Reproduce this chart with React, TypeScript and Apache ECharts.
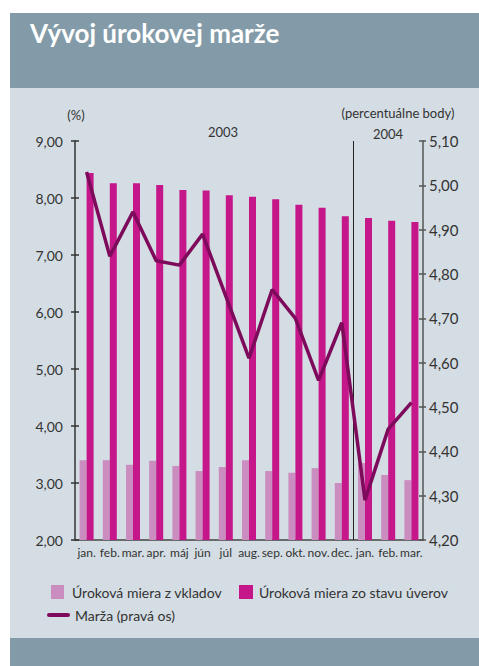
import React, { useEffect, useRef } from "react";
import * as echarts from "echarts";

const categories = ["jan.", "feb.", "mar.", "apr.", "máj", "jún", "júl", "aug.", "sep.", "okt.", "nov.", "dec.", "jan.", "feb.", "mar."];
const depositRate = [3.40, 3.40, 3.32, 3.39, 3.30, 3.21, 3.28, 3.40, 3.21, 3.18, 3.26, 3.00, 3.35, 3.14, 3.05];
const loanRate = [8.44, 8.26, 8.26, 8.23, 8.14, 8.13, 8.05, 8.02, 7.98, 7.88, 7.83, 7.68, 7.65, 7.60, 7.58];
const margin = [5.03, 4.84, 4.94, 4.83, 4.82, 4.89, 4.75, 4.61, 4.765, 4.70, 4.56, 4.69, 4.29, 4.45, 4.51];
const leftTicks = { min: 2, max: 9, interval: 1 };
const rightTicks = { min: 4.2, max: 5.1, interval: 0.1 };
const seriesNames = ["Úroková miera z vkladov", "Úroková miera zo stavu úverov", "Marža (pravá os)"];
const yearLabels = ["2003", "2004"];
const yearBreakIndex = 12;

const FONT = "Lato, 'Open Sans', sans-serif";
const TEXT = "#333333";

export default function App() {
  const ref = useRef<HTMLDivElement>(null);
  useEffect(() => {
    const chart = echarts.init(ref.current!, undefined, { renderer: "svg" });
    const fmt = (v: number) => v.toFixed(2).replace(".", ",");
    const baseGraphic: any[] = [
      { type: "rect", z: -10, shape: { x: 10, y: 13, width: 469, height: 75 }, style: { fill: "#839BA8" }, silent: true },
      { type: "rect", z: -10, shape: { x: 10, y: 88, width: 469, height: 550 }, style: { fill: "#D4DDE3" }, silent: true },
      { type: "rect", z: -10, shape: { x: 10, y: 638, width: 469, height: 28 }, style: { fill: "#839BA8" }, silent: true },
      { type: "text", x: 30, y: 20, style: { text: "Vývoj úrokovej marže", fill: "#ffffff", font: `bold 26px ${FONT}` } },
      { type: "text", x: 76, y: 115, style: { text: "(%)", fill: TEXT, font: `13px ${FONT}`, align: "center", verticalAlign: "middle" } },
      { type: "text", x: 398, y: 113, style: { text: "(percentuálne body)", fill: TEXT, font: `13px ${FONT}`, align: "center", verticalAlign: "middle" } },
      { type: "text", x: 223, y: 132, style: { text: yearLabels[0], fill: TEXT, font: `13px ${FONT}`, align: "center", verticalAlign: "middle" } },
      { type: "text", x: 388, y: 134, style: { text: yearLabels[1], fill: TEXT, font: `13px ${FONT}`, align: "center", verticalAlign: "middle" } },
      { type: "rect", shape: { x: 51, y: 585, width: 13, height: 14 }, style: { fill: "#CB8DBF" } },
      { type: "text", x: 72, y: 592, style: { text: seriesNames[0], fill: TEXT, font: `14px ${FONT}`, verticalAlign: "middle" } },
      { type: "rect", shape: { x: 239, y: 585, width: 14, height: 14 }, style: { fill: "#C5168A" } },
      { type: "text", x: 259, y: 592, style: { text: seriesNames[1], fill: TEXT, font: `14px ${FONT}`, verticalAlign: "middle" } },
      { type: "line", shape: { x1: 49, y1: 615, x2: 68, y2: 615 }, style: { stroke: "#7D0A5A", lineWidth: 4, lineCap: "round" } },
      { type: "text", x: 75, y: 615, style: { text: seriesNames[2], fill: TEXT, font: `14px ${FONT}`, verticalAlign: "middle" } },
    ];
    chart.setOption({
      animation: false,
      textStyle: { fontFamily: FONT },
      grid: { left: 75, right: 56, top: 141, bottom: 126, containLabel: false },
      graphic: baseGraphic,
      xAxis: {
        type: "category",
        data: categories,
        boundaryGap: true,
        axisLine: { show: true, lineStyle: { color: "#444", width: 1.5 } },
        axisTick: { show: false },
        axisLabel: { color: TEXT, fontSize: 12, margin: 6, interval: 0, fontFamily: FONT },
        splitLine: { show: false },
      },
      yAxis: [
        {
          type: "value", position: "left", ...leftTicks,
          axisLine: { show: true, lineStyle: { color: "#333", width: 1.5 } },
          axisTick: { show: true, length: 4, lineStyle: { color: "#333", width: 1.5 } },
          axisLabel: { color: TEXT, fontSize: 14, margin: 12, formatter: fmt, fontFamily: FONT },
          splitLine: { show: false },
        },
        {
          type: "value", position: "right", ...rightTicks,
          axisLine: { show: true, lineStyle: { color: "#555", width: 1.5 } },
          axisTick: { show: true, length: 3, lineStyle: { color: "#555", width: 1.5 } },
          axisLabel: { color: TEXT, fontSize: 15, margin: 6, formatter: fmt, fontFamily: FONT },
          splitLine: { show: false },
        },
        {
          type: "value", position: "left", ...leftTicks,
          axisLine: { show: false },
          axisTick: { show: true, inside: true, length: 4, lineStyle: { color: "#333", width: 1.5 } },
          axisLabel: { show: false },
          splitLine: { show: false },
        },
        {
          type: "value", position: "right", ...rightTicks,
          axisLine: { show: false },
          axisTick: { show: true, inside: true, length: 4, lineStyle: { color: "#555", width: 1.5 } },
          axisLabel: { show: false },
          splitLine: { show: false },
        },
      ],
      series: [
        { name: seriesNames[0], type: "bar", data: depositRate, barWidth: 7, barGap: "0%", itemStyle: { color: "#CB8DBF" }, yAxisIndex: 0 },
        { name: seriesNames[1], type: "bar", data: loanRate, barWidth: 7, barGap: "0%", itemStyle: { color: "#C5168A" }, yAxisIndex: 0 },
        { name: seriesNames[2], type: "line", data: margin, yAxisIndex: 1, showSymbol: false, symbol: "none", lineStyle: { color: "#7D0A5A", width: 3.5 }, z: 5 },
      ],
    });
    const xa = chart.convertToPixel({ xAxisIndex: 0 }, yearBreakIndex - 1) as number;
    const xb = chart.convertToPixel({ xAxisIndex: 0 }, yearBreakIndex) as number;
    const xm = (xa + xb) / 2;
    const yTop = chart.convertToPixel({ yAxisIndex: 0 }, leftTicks.max) as number;
    const yBot = chart.convertToPixel({ yAxisIndex: 0 }, leftTicks.min) as number;
    chart.setOption({
      graphic: [
        ...baseGraphic,
        { type: "line", z: 3, shape: { x1: Math.round(xm) + 0.5, y1: yTop, x2: Math.round(xm) + 0.5, y2: yBot }, style: { stroke: "#222", lineWidth: 1 } },
      ],
    });
    return () => chart.dispose();
  }, []);
  return <div ref={ref} style={{ position: "fixed", left: 0, top: 0, width: 479, height: 666, background: "#ffffff" }} />;
}
